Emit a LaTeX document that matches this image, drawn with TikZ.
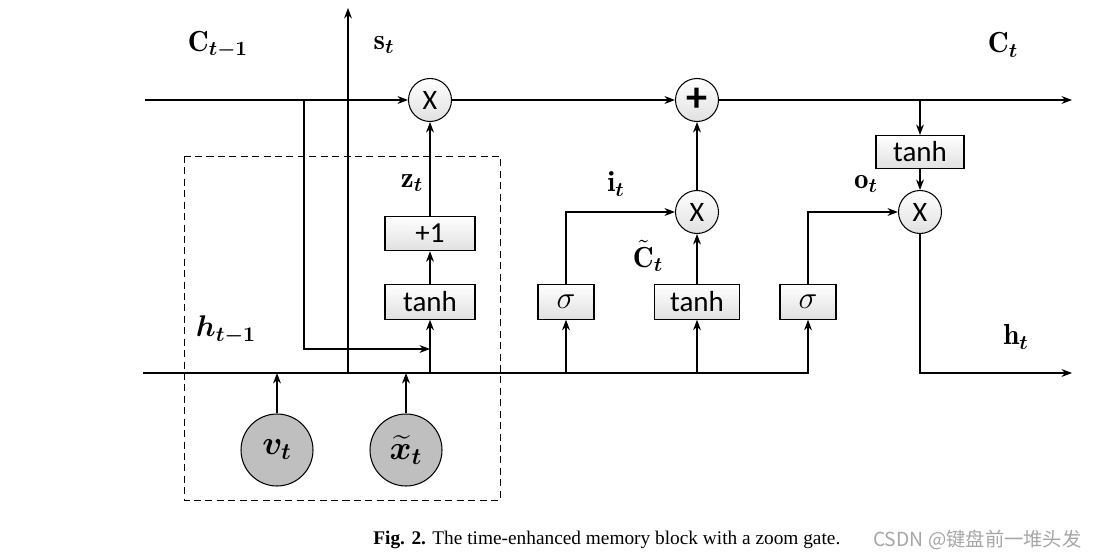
\RequirePackage{fix-cm}
\documentclass[tikz,border=0pt]{standalone}
\usepackage{amsmath}
\usepackage{bm}
\usepackage{fontspec}
\newfontfamily\boxfont{Carlito}
\newfontfamily\capfont{Liberation Serif}
\newfontfamily\cjkfont{Noto Sans CJK SC}
\usetikzlibrary{arrows.meta,positioning}

\begin{document}
\begin{tikzpicture}[x=0.02cm, y=-0.02cm, >={Stealth[length=6pt,width=4.5pt]},
    line width=0.6pt,
    opcirc/.style={circle, draw, inner sep=0pt, minimum size=0.86cm,
      top color=white, bottom color=black!12, font=\boxfont\fontsize{16}{18}\selectfont},
    gatebox/.style={rectangle, draw, inner sep=0pt, minimum height=0.69cm,
      top color=white, bottom color=black!12, font=\boxfont\fontsize{16.5}{18}\selectfont},
    incirc/.style={circle, draw, inner sep=0pt, minimum size=1.44cm, fill=black!25,
      font=\fontsize{19}{21}\selectfont},
    lbl/.style={font=\fontsize{16.5}{18}\selectfont}]
  \useasboundingbox (0,0) rectangle (1101,557);

  % cell state line
  \coordinate (cin) at (145,100);
  \coordinate (cout) at (1072,100);
  \coordinate (cbranch) at (304,100);
  \coordinate (obranch) at (920,100);
  \node[opcirc] (mz) at (430,100) {X};
  \node[opcirc, font=\boxfont\bfseries\fontsize{24}{24}\selectfont] (plus) at (697,100) {+};
  \draw[->] (cin) -- (mz);
  \draw[->] (mz) -- (plus);
  \draw[->] (plus) -- (cout);

  % hidden state line
  \coordinate (hin) at (143,373);
  \coordinate (hout) at (1072,373);
  \coordinate (sbase) at (348,373);
  \coordinate (stop) at (348,8);
  \coordinate (zbase) at (430,373);
  \coordinate (zjoin) at (430,349);
  \coordinate (ibase) at (566,373);
  \coordinate (cbase) at (697,373);
  \coordinate (vin) at (277,373);
  \coordinate (xin) at (406,373);

  % zoom gate
  \draw[dashed, dash pattern=on 4pt off 2.5pt, line width=0.5pt] (184,156) rectangle (500,500);
  \node[gatebox, minimum width=1.8cm] (ztanh) at (430,302) {tanh};
  \node[gatebox, minimum width=1.8cm] (zone) at (430,233.5) {+1};
  \node[incirc] (vt) at (277,450) {$\bm{v_t}$};
  \node[incirc] (xt) at (406,450) {$\bm{\widetilde{x}_t}$};

  % input, candidate and output gates
  \node[gatebox, minimum width=1.12cm, font=\fontsize{18}{18}\selectfont] (sigi) at (566,302) {$\sigma$};
  \node[gatebox, minimum width=1.7cm] (ctanh) at (697,302) {tanh};
  \node[gatebox, minimum width=1.12cm, font=\fontsize{18}{18}\selectfont] (sigo) at (808,302) {$\sigma$};
  \node[gatebox, minimum width=1.76cm, minimum height=0.66cm] (otanh) at (920,152) {tanh};
  \node[opcirc] (mi) at (697,212) {X};
  \node[opcirc] (mo) at (920,212) {X};

  % connectors
  \draw[->] (sbase) -- (stop);
  \draw[->] (cbranch) |- (zjoin);
  \draw[->] (zbase) -- (ztanh);
  \draw[->] (ztanh) -- (zone);
  \draw[->] (zone) -- (mz);
  \draw[->] (hin) -| (sigo);
  \draw[->] (ibase) -- (sigi);
  \draw[->] (cbase) -- (ctanh);
  \draw[->] (sigi) |- (mi);
  \draw[->] (sigo) |- (mo);
  \draw[->] (ctanh) -- (mi);
  \draw[->] (mi) -- (plus);
  \draw[->] (obranch) -- (otanh);
  \draw[->] (otanh) -- (mo);
  \draw[->] (mo) |- (hout);
  \draw[->] (vt) -- (vin);
  \draw[->] (xt) -- (xin);

  % labels
  \node[lbl] (lcprev) at (218,45) {$\mathbf{C}_{\bm{t-1}}$};
  \node[lbl] (ls) at (384,45) {$\mathbf{s}_{\bm{t}}$};
  \node[lbl] (lc) at (1003,45) {$\mathbf{C}_{\bm{t}}$};
  \node[lbl] (lz) at (412,183) {$\mathbf{z}_{\bm{t}}$};
  \node[lbl] (li) at (616,184) {$\mathbf{i}_{\bm{t}}$};
  \node[lbl] (lct) at (648,256) {$\tilde{\mathbf{C}}_{\bm{t}}$};
  \node[lbl] (lo) at (866,184) {$\mathbf{o}_{\bm{t}}$};
  \node[lbl, font=\fontsize{17}{19}\selectfont] (lhprev) at (226,330) {$\bm{h_{t-1}}$};
  \node[lbl] (lh) at (1016,337) {$\mathbf{h}_{\bm{t}}$};

  % caption
  \node[anchor=west, font=\capfont\fontsize{11}{13}\selectfont] (cap) at (367,540)
    {\textbf{Fig. 2.} The time-enhanced memory block with a zoom gate.};
  \node[anchor=east, text=black!35, font=\cjkfont\fontsize{11}{13}\selectfont] (mark) at (1088,540)
    {CSDN @键盘前一堆头发};
\end{tikzpicture}
\end{document}
